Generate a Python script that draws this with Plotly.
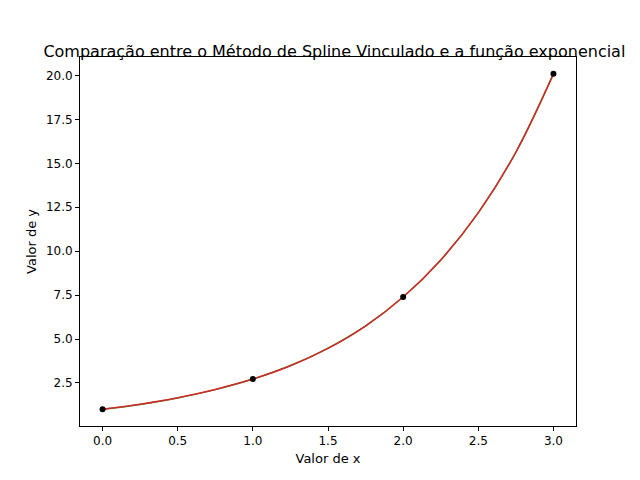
import plotly.graph_objects as go

# pontos de interpolacao
x_pts = [0, 1, 2, 3]
y_pts = [1.0, 2.72, 7.39, 20.09]

# curvas (spline vinculado e exponencial quase iguais)
x_curve = [0, 0.25, 0.5, 0.75, 1.0, 1.25, 1.5, 1.75, 2.0, 2.25, 2.5, 2.75, 3.0]
y_exp = [1.0, 1.28, 1.65, 2.12, 2.72, 3.49, 4.48, 5.75, 7.39, 9.49, 12.18, 15.64, 20.09]
y_spline = [1.0, 1.29, 1.66, 2.13, 2.72, 3.48, 4.47, 5.74, 7.39, 9.50, 12.19, 15.63, 20.09]

fig = go.Figure()
fig.add_trace(go.Scatter(x=x_curve, y=y_exp, mode="lines", line=dict(color="#2ca02c", width=1.5, shape="spline")))
fig.add_trace(go.Scatter(x=x_curve, y=y_spline, mode="lines", line=dict(color="#d62728", width=1.5, shape="spline")))
fig.add_trace(go.Scatter(x=x_pts, y=y_pts, mode="markers", marker=dict(color="black", size=6)))

axis = dict(showgrid=False, zeroline=False, showline=True, mirror=True, linecolor="black",
            ticks="outside", ticklen=4, tickcolor="black", tickfont=dict(size=12, color="black"))
fig.update_layout(
    width=640, height=480, showlegend=False,
    plot_bgcolor="white", paper_bgcolor="white",
    font=dict(family="DejaVu Sans", color="black"),
    title=dict(text="Comparação entre o Método de Spline Vinculado e a função exponencial",
               x=0.51, xanchor="center", y=0.91, yanchor="middle", font=dict(size=16)),
    margin=dict(l=72, r=72, t=49, b=62),
)
fig.update_xaxes(axis, range=[-0.15, 3.15], tickvals=[0, 0.5, 1, 1.5, 2, 2.5, 3],
                 ticktext=["0.0", "0.5", "1.0", "1.5", "2.0", "2.5", "3.0"],
                 title=dict(text="Valor de x", font=dict(size=13), standoff=6))
fig.update_yaxes(axis, range=[0.05, 21.05], tickvals=[2.5, 5, 7.5, 10, 12.5, 15, 17.5, 20],
                 ticktext=["2.5", "5.0", "7.5", "10.0", "12.5", "15.0", "17.5", "20.0"],
                 title=dict(text="Valor de y", font=dict(size=13), standoff=6))
fig.write_html("out.html")
